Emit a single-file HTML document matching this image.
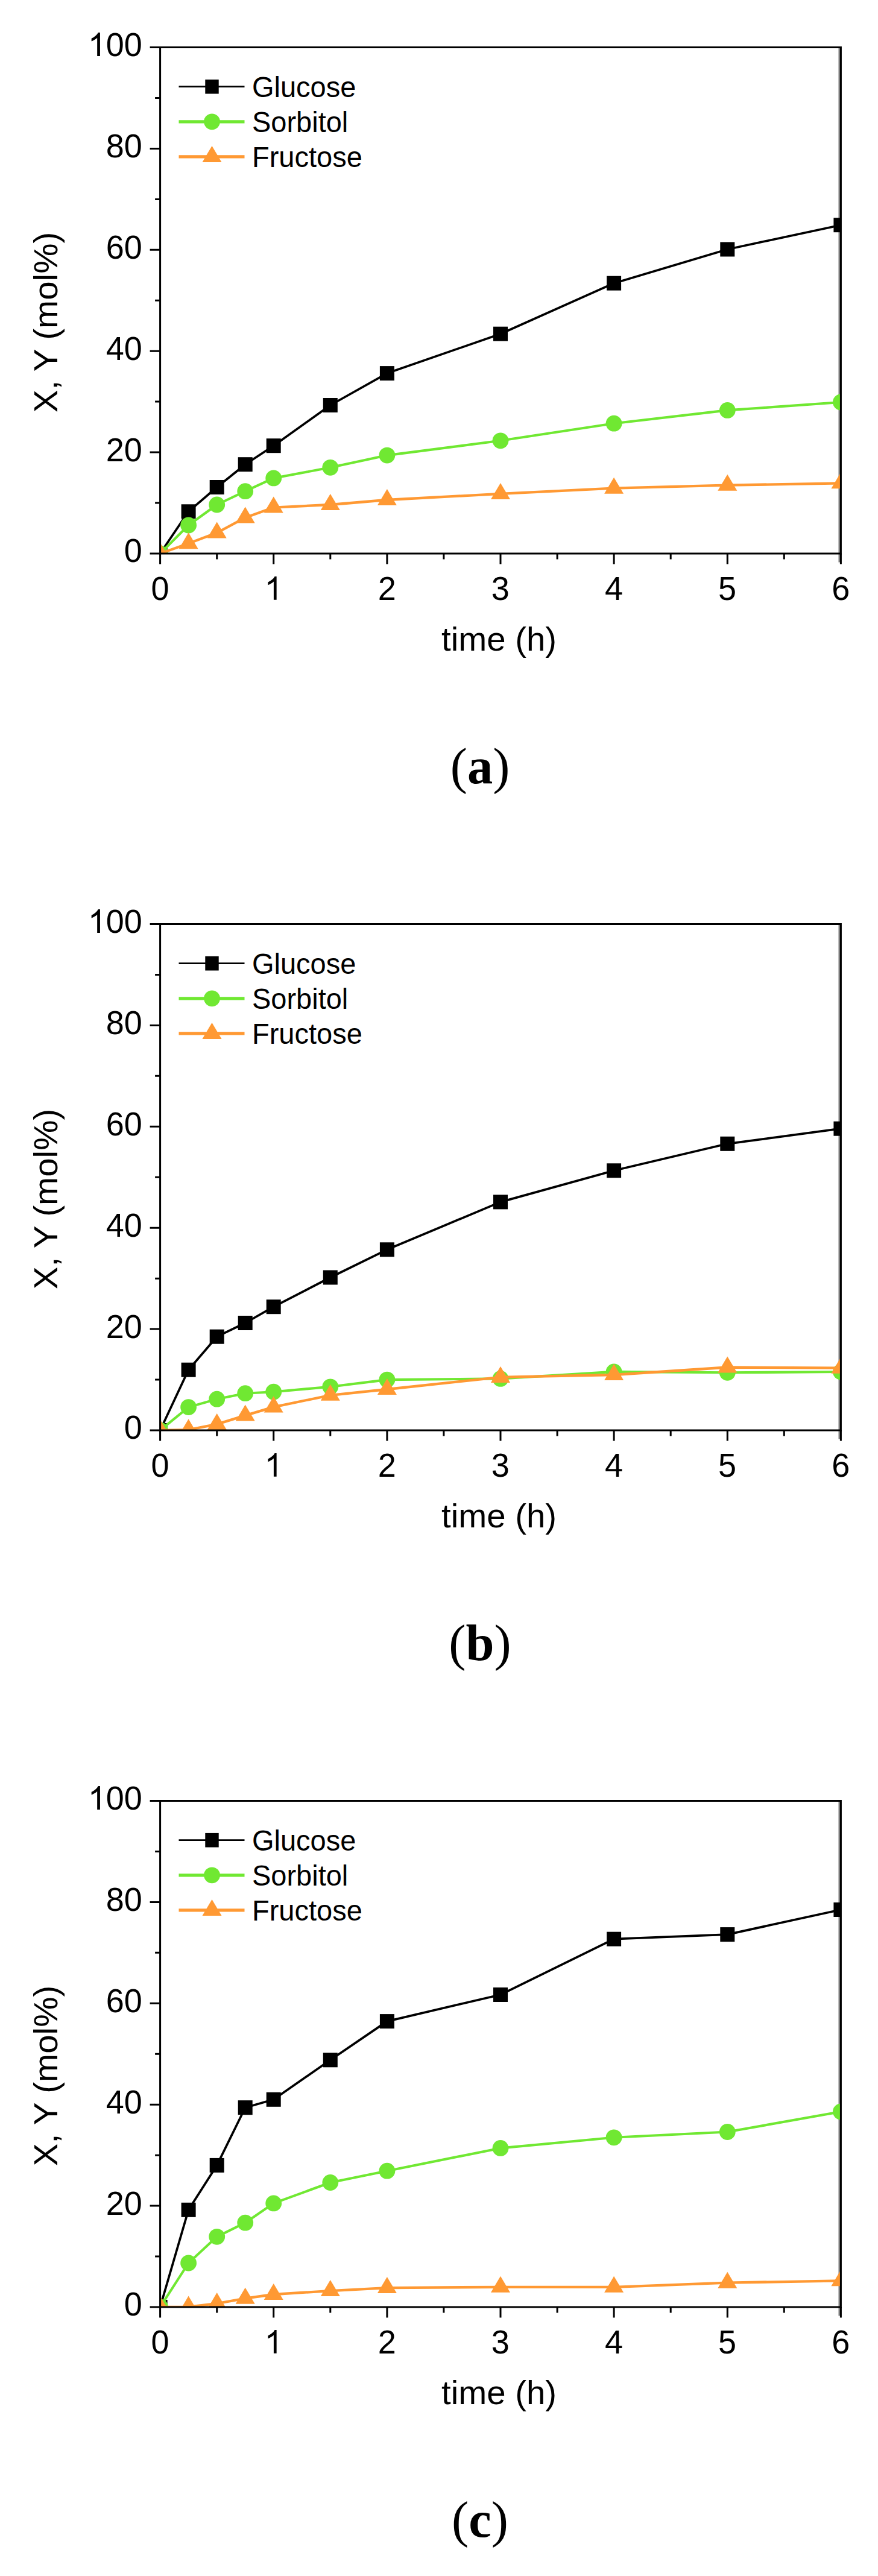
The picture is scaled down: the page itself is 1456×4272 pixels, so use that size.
<!DOCTYPE html>
<html><head><meta charset="utf-8"><title>Figure</title>
<style>
html,body{margin:0;padding:0;background:#fff;}
body{width:1456px;height:4272px;overflow:hidden;}
svg{display:block;}
text{font-family:"Liberation Sans",sans-serif;fill:#000;}
.cap{font-family:"Liberation Serif",serif;}
</style></head><body>
<svg width="1456" height="4272" viewBox="0 0 1456 4272">
<rect x="0" y="0" width="1456" height="4272" fill="#ffffff"/>

<g id="chart-a">
<clipPath id="clip-a"><rect x="265.6" y="78.5" width="1128.8000000000002" height="839.5"/></clipPath>
<rect x="1390.5" y="80.0" width="2.6" height="852.5" fill="#808080"/>
<g clip-path="url(#clip-a)">
<polyline points="265.6,918.0 312.6,848.3 359.7,808.0 406.7,770.2 453.7,739.2 547.8,672.0 641.9,619.1 830.0,553.7 1018.1,469.7 1206.3,413.5 1394.4,373.2" fill="none" stroke="#000000" stroke-width="3.7" stroke-linejoin="round"/>
<rect x="253.6" y="906.0" width="24.0" height="24.0" fill="#000000"/>
<rect x="300.6" y="836.3" width="24.0" height="24.0" fill="#000000"/>
<rect x="347.7" y="796.0" width="24.0" height="24.0" fill="#000000"/>
<rect x="394.7" y="758.2" width="24.0" height="24.0" fill="#000000"/>
<rect x="441.7" y="727.2" width="24.0" height="24.0" fill="#000000"/>
<rect x="535.8" y="660.0" width="24.0" height="24.0" fill="#000000"/>
<rect x="629.9" y="607.1" width="24.0" height="24.0" fill="#000000"/>
<rect x="818.0" y="541.7" width="24.0" height="24.0" fill="#000000"/>
<rect x="1006.1" y="457.7" width="24.0" height="24.0" fill="#000000"/>
<rect x="1194.3" y="401.5" width="24.0" height="24.0" fill="#000000"/>
<rect x="1382.4" y="361.2" width="24.0" height="24.0" fill="#000000"/>
<polyline points="265.6,918.0 312.6,871.0 359.7,837.0 406.7,814.7 453.7,792.9 547.8,775.3 641.9,755.1 830.0,730.8 1018.1,702.2 1206.3,680.4 1394.4,667.0" fill="none" stroke="#70e832" stroke-width="4.1" stroke-linejoin="round"/>
<circle cx="265.6" cy="918.0" r="13.4" fill="#70e832"/>
<circle cx="312.6" cy="871.0" r="13.4" fill="#70e832"/>
<circle cx="359.7" cy="837.0" r="13.4" fill="#70e832"/>
<circle cx="406.7" cy="814.7" r="13.4" fill="#70e832"/>
<circle cx="453.7" cy="792.9" r="13.4" fill="#70e832"/>
<circle cx="547.8" cy="775.3" r="13.4" fill="#70e832"/>
<circle cx="641.9" cy="755.1" r="13.4" fill="#70e832"/>
<circle cx="830.0" cy="730.8" r="13.4" fill="#70e832"/>
<circle cx="1018.1" cy="702.2" r="13.4" fill="#70e832"/>
<circle cx="1206.3" cy="680.4" r="13.4" fill="#70e832"/>
<circle cx="1394.4" cy="667.0" r="13.4" fill="#70e832"/>
<polyline points="265.6,918.0 312.6,901.2 359.7,883.6 406.7,858.4 453.7,841.6 547.8,837.0 641.9,829.0 830.0,818.9 1018.1,809.7 1206.3,804.7 1394.4,801.3" fill="none" stroke="#ff9933" stroke-width="4.3" stroke-linejoin="round"/>
<polygon points="249.6,927.0 281.6,927.0 265.6,900.0" fill="#ff9933"/>
<polygon points="296.6,910.2 328.6,910.2 312.6,883.2" fill="#ff9933"/>
<polygon points="343.7,892.6 375.7,892.6 359.7,865.6" fill="#ff9933"/>
<polygon points="390.7,867.4 422.7,867.4 406.7,840.4" fill="#ff9933"/>
<polygon points="437.7,850.6 469.7,850.6 453.7,823.6" fill="#ff9933"/>
<polygon points="531.8,846.0 563.8,846.0 547.8,819.0" fill="#ff9933"/>
<polygon points="625.9,838.0 657.9,838.0 641.9,811.0" fill="#ff9933"/>
<polygon points="814.0,827.9 846.0,827.9 830.0,800.9" fill="#ff9933"/>
<polygon points="1002.1,818.7 1034.1,818.7 1018.1,791.7" fill="#ff9933"/>
<polygon points="1190.3,813.7 1222.3,813.7 1206.3,786.7" fill="#ff9933"/>
<polygon points="1378.4,810.3 1410.4,810.3 1394.4,783.3" fill="#ff9933"/>
</g>
<rect x="265.6" y="78.5" width="1128.8000000000002" height="839.5" fill="none" stroke="#000" stroke-width="3.0"/>
<path d="M265.6,918.0h-17.0 M265.6,834.0h-8.5 M265.6,750.1h-17.0 M265.6,666.1h-8.5 M265.6,582.2h-17.0 M265.6,498.2h-8.5 M265.6,414.3h-17.0 M265.6,330.4h-8.5 M265.6,246.4h-17.0 M265.6,162.5h-8.5 M265.6,78.5h-17.0 M265.6,918.0v17.5 M359.7,918.0v9.5 M453.7,918.0v17.5 M547.8,918.0v9.5 M641.9,918.0v17.5 M735.9,918.0v9.5 M830.0,918.0v17.5 M924.1,918.0v9.5 M1018.1,918.0v17.5 M1112.2,918.0v9.5 M1206.3,918.0v17.5 M1300.3,918.0v9.5 M1394.4,918.0v17.5" stroke="#000" stroke-width="3.0" fill="none"/>
<text transform="translate(205.87,932.40) scale(1,1.03)" font-size="54">0</text>
<text transform="translate(175.83,764.50) scale(1,1.03)" font-size="54">2</text><text transform="translate(205.87,764.50) scale(1,1.03)" font-size="54">0</text>
<text transform="translate(175.83,596.60) scale(1,1.03)" font-size="54">4</text><text transform="translate(205.87,596.60) scale(1,1.03)" font-size="54">0</text>
<text transform="translate(175.83,428.70) scale(1,1.03)" font-size="54">6</text><text transform="translate(205.87,428.70) scale(1,1.03)" font-size="54">0</text>
<text transform="translate(175.83,260.80) scale(1,1.03)" font-size="54">8</text><text transform="translate(205.87,260.80) scale(1,1.03)" font-size="54">0</text>
<path transform="translate(145.80,92.90) scale(0.02637,-0.02637)" d="M763 0H583V1147Q518 1085 412.5 1023Q307 961 223 930V1104Q374 1175 487 1276Q600 1377 647 1472H763Z" fill="#000"/><text transform="translate(175.83,92.90) scale(1,1.03)" font-size="54">0</text><text transform="translate(205.87,92.90) scale(1,1.03)" font-size="54">0</text>
<text transform="translate(250.38,994.70) scale(1,1.03)" font-size="54">0</text>
<path transform="translate(438.52,994.70) scale(0.02637,-0.02637)" d="M763 0H583V1147Q518 1085 412.5 1023Q307 961 223 930V1104Q374 1175 487 1276Q600 1377 647 1472H763Z" fill="#000"/>
<text transform="translate(626.65,994.70) scale(1,1.03)" font-size="54">2</text>
<text transform="translate(814.78,994.70) scale(1,1.03)" font-size="54">3</text>
<text transform="translate(1002.92,994.70) scale(1,1.03)" font-size="54">4</text>
<text transform="translate(1191.05,994.70) scale(1,1.03)" font-size="54">5</text>
<text transform="translate(1379.18,994.70) scale(1,1.03)" font-size="54">6</text>
<text transform="translate(827.5,1078.5) scale(1.025,1)" font-size="55" text-anchor="middle">time (h)</text>
<text transform="translate(94.5,534.5) rotate(-90) scale(1.028,1)" font-size="55" text-anchor="middle">X, Y (mol%)</text>
<line x1="296.5" y1="143.7" x2="405.5" y2="143.7" stroke="#000000" stroke-width="2.8"/>
<rect x="340.3" y="131.9" width="22.4" height="23.6" fill="#000"/>
<text transform="translate(418,161.0) scale(1,1.035)" font-size="47">Glucose</text>
<line x1="296.5" y1="201.8" x2="405.5" y2="201.8" stroke="#70e832" stroke-width="5.2"/>
<circle cx="351.5" cy="201.8" r="13.4" fill="#70e832"/>
<text transform="translate(418,219.1) scale(1,1.035)" font-size="47">Sorbitol</text>
<line x1="296.5" y1="259.9" x2="405.5" y2="259.9" stroke="#ff9933" stroke-width="5.2"/>
<polygon points="335.5,268.9 367.5,268.9 351.5,241.9" fill="#ff9933"/>
<text transform="translate(418,277.2) scale(1,1.035)" font-size="47">Fructose</text>
<text class="cap" x="796" y="1298.5" font-size="84.5" text-anchor="middle">(<tspan font-weight="bold">a</tspan>)</text>
</g>
<g id="chart-b">
<clipPath id="clip-b"><rect x="265.6" y="1532.5" width="1128.8000000000002" height="839.5"/></clipPath>
<rect x="1390.5" y="1534.0" width="2.6" height="852.5" fill="#808080"/>
<g clip-path="url(#clip-b)">
<polyline points="265.6,2372.0 312.6,2271.7 359.7,2216.7 406.7,2194.0 453.7,2167.2 547.8,2118.5 641.9,2072.3 830.0,1993.4 1018.1,1941.3 1206.3,1896.8 1394.4,1871.7" fill="none" stroke="#000000" stroke-width="3.7" stroke-linejoin="round"/>
<rect x="253.6" y="2360.0" width="24.0" height="24.0" fill="#000000"/>
<rect x="300.6" y="2259.7" width="24.0" height="24.0" fill="#000000"/>
<rect x="347.7" y="2204.7" width="24.0" height="24.0" fill="#000000"/>
<rect x="394.7" y="2182.0" width="24.0" height="24.0" fill="#000000"/>
<rect x="441.7" y="2155.2" width="24.0" height="24.0" fill="#000000"/>
<rect x="535.8" y="2106.5" width="24.0" height="24.0" fill="#000000"/>
<rect x="629.9" y="2060.3" width="24.0" height="24.0" fill="#000000"/>
<rect x="818.0" y="1981.4" width="24.0" height="24.0" fill="#000000"/>
<rect x="1006.1" y="1929.3" width="24.0" height="24.0" fill="#000000"/>
<rect x="1194.3" y="1884.8" width="24.0" height="24.0" fill="#000000"/>
<rect x="1382.4" y="1859.7" width="24.0" height="24.0" fill="#000000"/>
<polyline points="265.6,2372.0 312.6,2333.6 359.7,2320.2 406.7,2310.7 453.7,2308.2 547.8,2299.8 641.9,2288.1 830.0,2286.4 1018.1,2274.9 1206.3,2276.3 1394.4,2275.0" fill="none" stroke="#70e832" stroke-width="4.1" stroke-linejoin="round"/>
<circle cx="265.6" cy="2372.0" r="13.4" fill="#70e832"/>
<circle cx="312.6" cy="2333.6" r="13.4" fill="#70e832"/>
<circle cx="359.7" cy="2320.2" r="13.4" fill="#70e832"/>
<circle cx="406.7" cy="2310.7" r="13.4" fill="#70e832"/>
<circle cx="453.7" cy="2308.2" r="13.4" fill="#70e832"/>
<circle cx="547.8" cy="2299.8" r="13.4" fill="#70e832"/>
<circle cx="641.9" cy="2288.1" r="13.4" fill="#70e832"/>
<circle cx="830.0" cy="2286.4" r="13.4" fill="#70e832"/>
<circle cx="1018.1" cy="2274.9" r="13.4" fill="#70e832"/>
<circle cx="1206.3" cy="2276.3" r="13.4" fill="#70e832"/>
<circle cx="1394.4" cy="2275.0" r="13.4" fill="#70e832"/>
<polyline points="265.6,2372.0 312.6,2371.2 359.7,2361.9 406.7,2347.4 453.7,2333.4 547.8,2313.8 641.9,2304.0 830.0,2283.9 1018.1,2280.0 1206.3,2267.5 1394.4,2268.7" fill="none" stroke="#ff9933" stroke-width="4.3" stroke-linejoin="round"/>
<polygon points="249.6,2381.0 281.6,2381.0 265.6,2354.0" fill="#ff9933"/>
<polygon points="296.6,2380.2 328.6,2380.2 312.6,2353.2" fill="#ff9933"/>
<polygon points="343.7,2370.9 375.7,2370.9 359.7,2343.9" fill="#ff9933"/>
<polygon points="390.7,2356.4 422.7,2356.4 406.7,2329.4" fill="#ff9933"/>
<polygon points="437.7,2342.4 469.7,2342.4 453.7,2315.4" fill="#ff9933"/>
<polygon points="531.8,2322.8 563.8,2322.8 547.8,2295.8" fill="#ff9933"/>
<polygon points="625.9,2313.0 657.9,2313.0 641.9,2286.0" fill="#ff9933"/>
<polygon points="814.0,2292.9 846.0,2292.9 830.0,2265.9" fill="#ff9933"/>
<polygon points="1002.1,2289.0 1034.1,2289.0 1018.1,2262.0" fill="#ff9933"/>
<polygon points="1190.3,2276.5 1222.3,2276.5 1206.3,2249.5" fill="#ff9933"/>
<polygon points="1378.4,2277.7 1410.4,2277.7 1394.4,2250.7" fill="#ff9933"/>
</g>
<rect x="265.6" y="1532.5" width="1128.8000000000002" height="839.5" fill="none" stroke="#000" stroke-width="3.0"/>
<path d="M265.6,2372.0h-17.0 M265.6,2288.1h-8.5 M265.6,2204.1h-17.0 M265.6,2120.2h-8.5 M265.6,2036.2h-17.0 M265.6,1952.2h-8.5 M265.6,1868.3h-17.0 M265.6,1784.3h-8.5 M265.6,1700.4h-17.0 M265.6,1616.5h-8.5 M265.6,1532.5h-17.0 M265.6,2372.0v17.5 M359.7,2372.0v9.5 M453.7,2372.0v17.5 M547.8,2372.0v9.5 M641.9,2372.0v17.5 M735.9,2372.0v9.5 M830.0,2372.0v17.5 M924.1,2372.0v9.5 M1018.1,2372.0v17.5 M1112.2,2372.0v9.5 M1206.3,2372.0v17.5 M1300.3,2372.0v9.5 M1394.4,2372.0v17.5" stroke="#000" stroke-width="3.0" fill="none"/>
<text transform="translate(205.87,2386.40) scale(1,1.03)" font-size="54">0</text>
<text transform="translate(175.83,2218.50) scale(1,1.03)" font-size="54">2</text><text transform="translate(205.87,2218.50) scale(1,1.03)" font-size="54">0</text>
<text transform="translate(175.83,2050.60) scale(1,1.03)" font-size="54">4</text><text transform="translate(205.87,2050.60) scale(1,1.03)" font-size="54">0</text>
<text transform="translate(175.83,1882.70) scale(1,1.03)" font-size="54">6</text><text transform="translate(205.87,1882.70) scale(1,1.03)" font-size="54">0</text>
<text transform="translate(175.83,1714.80) scale(1,1.03)" font-size="54">8</text><text transform="translate(205.87,1714.80) scale(1,1.03)" font-size="54">0</text>
<path transform="translate(145.80,1546.90) scale(0.02637,-0.02637)" d="M763 0H583V1147Q518 1085 412.5 1023Q307 961 223 930V1104Q374 1175 487 1276Q600 1377 647 1472H763Z" fill="#000"/><text transform="translate(175.83,1546.90) scale(1,1.03)" font-size="54">0</text><text transform="translate(205.87,1546.90) scale(1,1.03)" font-size="54">0</text>
<text transform="translate(250.38,2448.70) scale(1,1.03)" font-size="54">0</text>
<path transform="translate(438.52,2448.70) scale(0.02637,-0.02637)" d="M763 0H583V1147Q518 1085 412.5 1023Q307 961 223 930V1104Q374 1175 487 1276Q600 1377 647 1472H763Z" fill="#000"/>
<text transform="translate(626.65,2448.70) scale(1,1.03)" font-size="54">2</text>
<text transform="translate(814.78,2448.70) scale(1,1.03)" font-size="54">3</text>
<text transform="translate(1002.92,2448.70) scale(1,1.03)" font-size="54">4</text>
<text transform="translate(1191.05,2448.70) scale(1,1.03)" font-size="54">5</text>
<text transform="translate(1379.18,2448.70) scale(1,1.03)" font-size="54">6</text>
<text transform="translate(827.5,2532.5) scale(1.025,1)" font-size="55" text-anchor="middle">time (h)</text>
<text transform="translate(94.5,1988.5) rotate(-90) scale(1.028,1)" font-size="55" text-anchor="middle">X, Y (mol%)</text>
<line x1="296.5" y1="1597.7" x2="405.5" y2="1597.7" stroke="#000000" stroke-width="2.8"/>
<rect x="340.3" y="1585.9" width="22.4" height="23.6" fill="#000"/>
<text transform="translate(418,1615.0) scale(1,1.035)" font-size="47">Glucose</text>
<line x1="296.5" y1="1655.8" x2="405.5" y2="1655.8" stroke="#70e832" stroke-width="5.2"/>
<circle cx="351.5" cy="1655.8" r="13.4" fill="#70e832"/>
<text transform="translate(418,1673.1) scale(1,1.035)" font-size="47">Sorbitol</text>
<line x1="296.5" y1="1713.9" x2="405.5" y2="1713.9" stroke="#ff9933" stroke-width="5.2"/>
<polygon points="335.5,1722.9 367.5,1722.9 351.5,1695.9" fill="#ff9933"/>
<text transform="translate(418,1731.2) scale(1,1.035)" font-size="47">Fructose</text>
<text class="cap" x="796" y="2752.5" font-size="84.5" text-anchor="middle">(<tspan font-weight="bold">b</tspan>)</text>
</g>
<g id="chart-c">
<clipPath id="clip-c"><rect x="265.6" y="2986.5" width="1128.8000000000002" height="839.5"/></clipPath>
<rect x="1390.5" y="2988.0" width="2.6" height="852.5" fill="#808080"/>
<g clip-path="url(#clip-c)">
<polyline points="265.6,3826.0 312.6,3664.8 359.7,3590.9 406.7,3495.2 453.7,3481.8 547.8,3416.3 641.9,3352.1 830.0,3308.0 1018.1,3215.7 1206.3,3208.1 1394.4,3167.0" fill="none" stroke="#000000" stroke-width="3.7" stroke-linejoin="round"/>
<rect x="253.6" y="3814.0" width="24.0" height="24.0" fill="#000000"/>
<rect x="300.6" y="3652.8" width="24.0" height="24.0" fill="#000000"/>
<rect x="347.7" y="3578.9" width="24.0" height="24.0" fill="#000000"/>
<rect x="394.7" y="3483.2" width="24.0" height="24.0" fill="#000000"/>
<rect x="441.7" y="3469.8" width="24.0" height="24.0" fill="#000000"/>
<rect x="535.8" y="3404.3" width="24.0" height="24.0" fill="#000000"/>
<rect x="629.9" y="3340.1" width="24.0" height="24.0" fill="#000000"/>
<rect x="818.0" y="3296.0" width="24.0" height="24.0" fill="#000000"/>
<rect x="1006.1" y="3203.7" width="24.0" height="24.0" fill="#000000"/>
<rect x="1194.3" y="3196.1" width="24.0" height="24.0" fill="#000000"/>
<rect x="1382.4" y="3155.0" width="24.0" height="24.0" fill="#000000"/>
<polyline points="265.6,3826.0 312.6,3753.0 359.7,3709.3 406.7,3686.2 453.7,3653.9 547.8,3619.5 641.9,3600.2 830.0,3562.4 1018.1,3544.8 1206.3,3535.5 1394.4,3502.0" fill="none" stroke="#70e832" stroke-width="4.1" stroke-linejoin="round"/>
<circle cx="265.6" cy="3826.0" r="13.4" fill="#70e832"/>
<circle cx="312.6" cy="3753.0" r="13.4" fill="#70e832"/>
<circle cx="359.7" cy="3709.3" r="13.4" fill="#70e832"/>
<circle cx="406.7" cy="3686.2" r="13.4" fill="#70e832"/>
<circle cx="453.7" cy="3653.9" r="13.4" fill="#70e832"/>
<circle cx="547.8" cy="3619.5" r="13.4" fill="#70e832"/>
<circle cx="641.9" cy="3600.2" r="13.4" fill="#70e832"/>
<circle cx="830.0" cy="3562.4" r="13.4" fill="#70e832"/>
<circle cx="1018.1" cy="3544.8" r="13.4" fill="#70e832"/>
<circle cx="1206.3" cy="3535.5" r="13.4" fill="#70e832"/>
<circle cx="1394.4" cy="3502.0" r="13.4" fill="#70e832"/>
<polyline points="265.6,3826.0 312.6,3825.6 359.7,3820.1 406.7,3811.7 453.7,3805.0 547.8,3799.1 641.9,3794.1 830.0,3792.8 1018.1,3792.8 1206.3,3785.7 1394.4,3782.3" fill="none" stroke="#ff9933" stroke-width="4.3" stroke-linejoin="round"/>
<polygon points="249.6,3835.0 281.6,3835.0 265.6,3808.0" fill="#ff9933"/>
<polygon points="296.6,3834.6 328.6,3834.6 312.6,3807.6" fill="#ff9933"/>
<polygon points="343.7,3829.1 375.7,3829.1 359.7,3802.1" fill="#ff9933"/>
<polygon points="390.7,3820.7 422.7,3820.7 406.7,3793.7" fill="#ff9933"/>
<polygon points="437.7,3814.0 469.7,3814.0 453.7,3787.0" fill="#ff9933"/>
<polygon points="531.8,3808.1 563.8,3808.1 547.8,3781.1" fill="#ff9933"/>
<polygon points="625.9,3803.1 657.9,3803.1 641.9,3776.1" fill="#ff9933"/>
<polygon points="814.0,3801.8 846.0,3801.8 830.0,3774.8" fill="#ff9933"/>
<polygon points="1002.1,3801.8 1034.1,3801.8 1018.1,3774.8" fill="#ff9933"/>
<polygon points="1190.3,3794.7 1222.3,3794.7 1206.3,3767.7" fill="#ff9933"/>
<polygon points="1378.4,3791.3 1410.4,3791.3 1394.4,3764.3" fill="#ff9933"/>
</g>
<rect x="265.6" y="2986.5" width="1128.8000000000002" height="839.5" fill="none" stroke="#000" stroke-width="3.0"/>
<path d="M265.6,3826.0h-17.0 M265.6,3742.1h-8.5 M265.6,3658.1h-17.0 M265.6,3574.2h-8.5 M265.6,3490.2h-17.0 M265.6,3406.2h-8.5 M265.6,3322.3h-17.0 M265.6,3238.3h-8.5 M265.6,3154.4h-17.0 M265.6,3070.4h-8.5 M265.6,2986.5h-17.0 M265.6,3826.0v17.5 M359.7,3826.0v9.5 M453.7,3826.0v17.5 M547.8,3826.0v9.5 M641.9,3826.0v17.5 M735.9,3826.0v9.5 M830.0,3826.0v17.5 M924.1,3826.0v9.5 M1018.1,3826.0v17.5 M1112.2,3826.0v9.5 M1206.3,3826.0v17.5 M1300.3,3826.0v9.5 M1394.4,3826.0v17.5" stroke="#000" stroke-width="3.0" fill="none"/>
<text transform="translate(205.87,3840.40) scale(1,1.03)" font-size="54">0</text>
<text transform="translate(175.83,3672.50) scale(1,1.03)" font-size="54">2</text><text transform="translate(205.87,3672.50) scale(1,1.03)" font-size="54">0</text>
<text transform="translate(175.83,3504.60) scale(1,1.03)" font-size="54">4</text><text transform="translate(205.87,3504.60) scale(1,1.03)" font-size="54">0</text>
<text transform="translate(175.83,3336.70) scale(1,1.03)" font-size="54">6</text><text transform="translate(205.87,3336.70) scale(1,1.03)" font-size="54">0</text>
<text transform="translate(175.83,3168.80) scale(1,1.03)" font-size="54">8</text><text transform="translate(205.87,3168.80) scale(1,1.03)" font-size="54">0</text>
<path transform="translate(145.80,3000.90) scale(0.02637,-0.02637)" d="M763 0H583V1147Q518 1085 412.5 1023Q307 961 223 930V1104Q374 1175 487 1276Q600 1377 647 1472H763Z" fill="#000"/><text transform="translate(175.83,3000.90) scale(1,1.03)" font-size="54">0</text><text transform="translate(205.87,3000.90) scale(1,1.03)" font-size="54">0</text>
<text transform="translate(250.38,3902.70) scale(1,1.03)" font-size="54">0</text>
<path transform="translate(438.52,3902.70) scale(0.02637,-0.02637)" d="M763 0H583V1147Q518 1085 412.5 1023Q307 961 223 930V1104Q374 1175 487 1276Q600 1377 647 1472H763Z" fill="#000"/>
<text transform="translate(626.65,3902.70) scale(1,1.03)" font-size="54">2</text>
<text transform="translate(814.78,3902.70) scale(1,1.03)" font-size="54">3</text>
<text transform="translate(1002.92,3902.70) scale(1,1.03)" font-size="54">4</text>
<text transform="translate(1191.05,3902.70) scale(1,1.03)" font-size="54">5</text>
<text transform="translate(1379.18,3902.70) scale(1,1.03)" font-size="54">6</text>
<text transform="translate(827.5,3986.5) scale(1.025,1)" font-size="55" text-anchor="middle">time (h)</text>
<text transform="translate(94.5,3442.5) rotate(-90) scale(1.028,1)" font-size="55" text-anchor="middle">X, Y (mol%)</text>
<line x1="296.5" y1="3051.7" x2="405.5" y2="3051.7" stroke="#000000" stroke-width="2.8"/>
<rect x="340.3" y="3039.9" width="22.4" height="23.6" fill="#000"/>
<text transform="translate(418,3069.0) scale(1,1.035)" font-size="47">Glucose</text>
<line x1="296.5" y1="3109.8" x2="405.5" y2="3109.8" stroke="#70e832" stroke-width="5.2"/>
<circle cx="351.5" cy="3109.8" r="13.4" fill="#70e832"/>
<text transform="translate(418,3127.1) scale(1,1.035)" font-size="47">Sorbitol</text>
<line x1="296.5" y1="3167.9" x2="405.5" y2="3167.9" stroke="#ff9933" stroke-width="5.2"/>
<polygon points="335.5,3176.9 367.5,3176.9 351.5,3149.9" fill="#ff9933"/>
<text transform="translate(418,3185.2) scale(1,1.035)" font-size="47">Fructose</text>
<text class="cap" x="796" y="4206.5" font-size="84.5" text-anchor="middle">(<tspan font-weight="bold">c</tspan>)</text>
</g>
</svg>
</body></html>
